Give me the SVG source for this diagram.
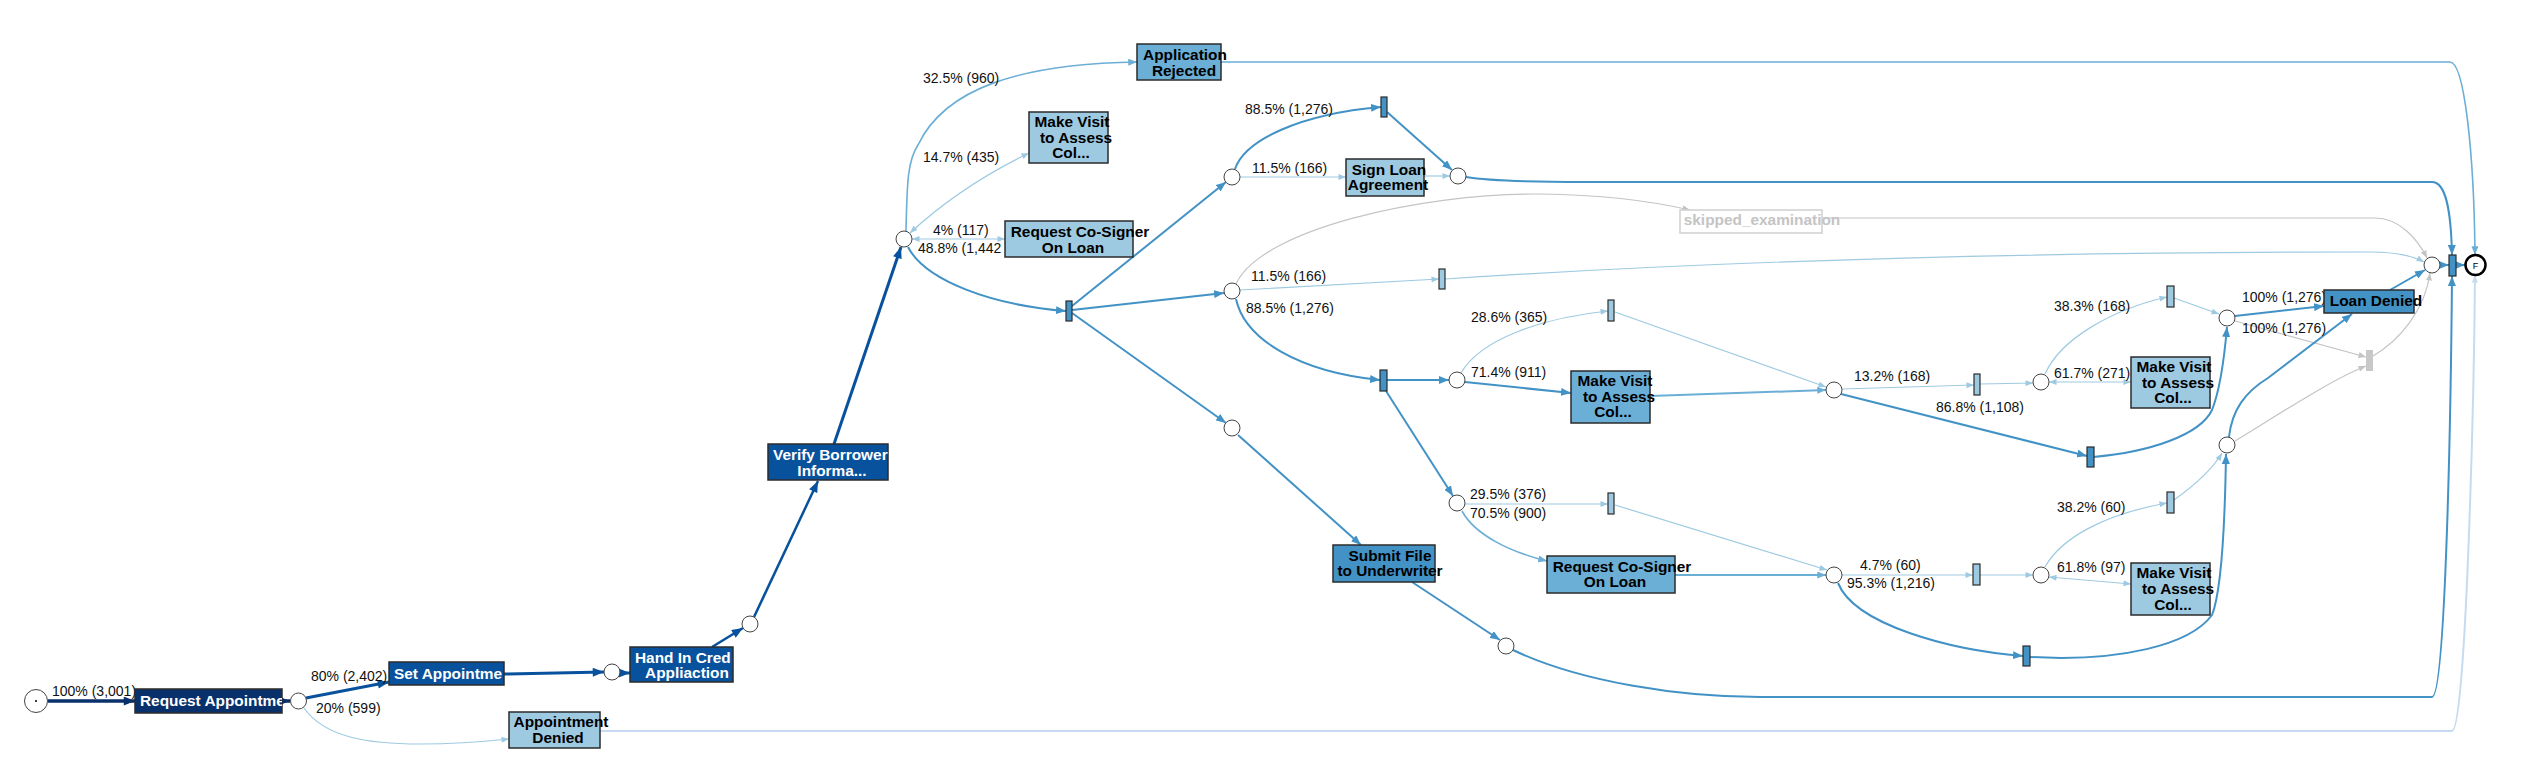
<svg xmlns="http://www.w3.org/2000/svg" width="2528" height="778" viewBox="0 0 2528 778">
<style>
.e{fill:none}
.navy{stroke:#08306b;stroke-width:3.5}
.b1{stroke:#08519c;stroke-width:3}
.b1t{stroke:#08519c;stroke-width:2.5}
.b2{stroke:#4292c6;stroke-width:2}
.b3{stroke:#6baed6;stroke-width:1.6}
.b3t{stroke:#6baed6;stroke-width:2}
.b4{stroke:#9ecae1;stroke-width:1.2}
.b5{stroke:#c6dbef;stroke-width:2}
.g{stroke:#c4c4c4;stroke-width:1.2}
.lbl{font-family:"Liberation Sans",Arial,Helvetica,sans-serif;font-size:14px;fill:#111}
.nt{font-family:"Liberation Sans",Arial,Helvetica,sans-serif;font-size:15.4px;font-weight:bold;fill:#000;text-anchor:middle}
.wt{font-family:"Liberation Sans",Arial,Helvetica,sans-serif;font-size:15.4px;font-weight:bold;fill:#fff}
.box{stroke:#2b2b2b;stroke-width:1.5}
.tr{stroke:#2b2b2b;stroke-width:1.2}
.pl{fill:#fff;stroke:#444;stroke-width:1}
</style>
<defs>
<marker id="a-navy" viewBox="0 0 10 8" refX="10" refY="4" markerUnits="userSpaceOnUse" markerWidth="12" markerHeight="9" orient="auto-start-reverse"><path d="M0,0 L10,4 L0,8 z" fill="#08306b"/></marker>
<marker id="a-b1" viewBox="0 0 10 8" refX="10" refY="4" markerUnits="userSpaceOnUse" markerWidth="12" markerHeight="9" orient="auto-start-reverse"><path d="M0,0 L10,4 L0,8 z" fill="#08519c"/></marker>
<marker id="a-b2" viewBox="0 0 10 8" refX="10" refY="4" markerUnits="userSpaceOnUse" markerWidth="10" markerHeight="8" orient="auto-start-reverse"><path d="M0,0 L10,4 L0,8 z" fill="#4292c6"/></marker>
<marker id="a-b3" viewBox="0 0 10 8" refX="10" refY="4" markerUnits="userSpaceOnUse" markerWidth="9" markerHeight="7" orient="auto-start-reverse"><path d="M0,0 L10,4 L0,8 z" fill="#6baed6"/></marker>
<marker id="a-b4" viewBox="0 0 10 8" refX="10" refY="4" markerUnits="userSpaceOnUse" markerWidth="8" markerHeight="6" orient="auto-start-reverse"><path d="M0,0 L10,4 L0,8 z" fill="#9ecae1"/></marker>
<marker id="a-b5" viewBox="0 0 10 8" refX="10" refY="4" markerUnits="userSpaceOnUse" markerWidth="8" markerHeight="6" orient="auto-start-reverse"><path d="M0,0 L10,4 L0,8 z" fill="#c6dbef"/></marker>
<marker id="a-g" viewBox="0 0 10 8" refX="10" refY="4" markerUnits="userSpaceOnUse" markerWidth="8" markerHeight="6" orient="auto-start-reverse"><path d="M0,0 L10,4 L0,8 z" fill="#c4c4c4"/></marker>
<clipPath id="c-ra"><rect x="135" y="689" width="147" height="24"/></clipPath>
<clipPath id="c-sa"><rect x="389" y="662" width="115" height="23"/></clipPath>
<clipPath id="c-hi"><rect x="630" y="647" width="103" height="35"/></clipPath>
<clipPath id="c-vb"><rect x="768" y="444" width="120" height="36"/></clipPath>
</defs>
<rect width="2528" height="778" fill="#fff"/>

<g id="connectors">
<path class="e navy" d="M48 701 L135 701" marker-end="url(#a-navy)"/>
<path class="e navy" d="M282 701 L290 701" marker-end="url(#a-navy)"/>
<path class="e b1" d="M306 698 L389 682" marker-end="url(#a-b1)"/>
<path class="e b4" d="M304 708 C325 738 370 744 420 744 C460 744 490 741 509 739" marker-end="url(#a-b4)"/>
<path class="e b1" d="M504 674 L604 672" marker-end="url(#a-b1)"/>
<path class="e b1" d="M620 673 L630 673" marker-end="url(#a-b1)"/>
<path class="e b1t" d="M712 647 L743 628" marker-end="url(#a-b1)"/>
<path class="e b1t" d="M754 617 L818 481" marker-end="url(#a-b1)"/>
<path class="e b1" d="M834 444 L901 247" marker-end="url(#a-b1)"/>
<path class="e b3" d="M906 231 C907 180 908 160 918 145 C945 88 1020 64 1137 62" marker-end="url(#a-b3)"/>
<path class="e b4" d="M910 233 C950 196 990 172 1029 153" marker-start="url(#a-b4)" marker-end="url(#a-b4)"/>
<path class="e b4" d="M912 239 L1005 239" marker-start="url(#a-b4)" marker-end="url(#a-b4)"/>
<path class="e b2" d="M908 247 C925 280 990 305 1066 311" marker-end="url(#a-b2)"/>
<path class="e b2" d="M1072 306 L1226 182" marker-end="url(#a-b2)"/>
<path class="e b2" d="M1072 310 L1224 293" marker-end="url(#a-b2)"/>
<path class="e b2" d="M1072 313 L1226 423" marker-end="url(#a-b2)"/>
<path class="e b2" d="M1235 169 C1245 140 1300 114 1381 107" marker-end="url(#a-b2)"/>
<path class="e b4" d="M1240 177 L1346 177" marker-end="url(#a-b4)"/>
<path class="e b2" d="M1387 112 L1452 170" marker-end="url(#a-b2)"/>
<path class="e b4" d="M1424 176 L1450 176" marker-end="url(#a-b4)"/>
<path class="e b2" d="M1466 177 C1490 181 1530 182 1585 182 L2432 182 C2446 182 2451 210 2452 255" marker-end="url(#a-b2)"/>
<path class="e b3" d="M1221 62 L2450 62 C2464 62 2474 150 2475 255" marker-end="url(#a-b3)"/>
<path class="e b5" d="M600 731 L2452 731 C2466 731 2474 400 2475 275" marker-end="url(#a-b5)"/>
<path class="e g" d="M1236 284 C1260 230 1420 193 1540 194 C1610 195 1660 203 1690 210" marker-end="url(#a-g)"/>
<path class="e g" d="M1822 218 L2375 218 C2400 218 2418 240 2427 258" marker-end="url(#a-g)"/>
<path class="e b4" d="M1240 290 L1439 279" marker-end="url(#a-b4)"/>
<path class="e b4" d="M1445 279 C1700 262 2000 252 2370 252 C2400 252 2415 257 2424 262" marker-end="url(#a-b4)"/>
<path class="e b2" d="M1236 299 C1245 340 1300 372 1380 380" marker-end="url(#a-b2)"/>
<path class="e b2" d="M1387 380 L1449 380" marker-end="url(#a-b2)"/>
<path class="e b4" d="M1461 373 C1480 340 1540 318 1608 311" marker-end="url(#a-b4)"/>
<path class="e b2" d="M1465 382 L1571 393" marker-end="url(#a-b2)"/>
<path class="e b2" d="M1386 391 L1453 496" marker-end="url(#a-b2)"/>
<path class="e b4" d="M1465 504 L1608 504" marker-end="url(#a-b4)"/>
<path class="e b3" d="M1462 511 C1475 535 1510 552 1547 561" marker-end="url(#a-b3)"/>
<path class="e b4" d="M1615 505 L1827 570" marker-end="url(#a-b4)"/>
<path class="e b3t" d="M1675 575 L1826 575" marker-end="url(#a-b3)"/>
<path class="e b4" d="M1842 575 L1973 575" marker-end="url(#a-b4)"/>
<path class="e b4" d="M1980 575 L2033 575" marker-end="url(#a-b4)"/>
<path class="e b2" d="M1838 583 C1855 625 1950 650 2023 656" marker-end="url(#a-b2)"/>
<path class="e b2" d="M1238 435 L1361 545" marker-end="url(#a-b2)"/>
<path class="e b2" d="M1412 582 L1500 640" marker-end="url(#a-b2)"/>
<path class="e b2" d="M1513 650 C1580 682 1680 697 1760 697 L2432 697 C2446 697 2451 400 2452 276" marker-end="url(#a-b2)"/>
<path class="e b4" d="M1615 312 L1826 387" marker-end="url(#a-b4)"/>
<path class="e b3t" d="M1650 396 L1826 390" marker-end="url(#a-b3)"/>
<path class="e b4" d="M1842 389 L1974 385" marker-end="url(#a-b4)"/>
<path class="e b4" d="M1980 384 L2033 383" marker-end="url(#a-b4)"/>
<path class="e b2" d="M1841 394 L2087 456" marker-end="url(#a-b2)"/>
<path class="e b4" d="M2049 382 L2131 382" marker-start="url(#a-b4)" marker-end="url(#a-b4)"/>
<path class="e b4" d="M2045 374 C2060 340 2110 310 2167 297" marker-end="url(#a-b4)"/>
<path class="e b4" d="M2174 298 L2219 314" marker-end="url(#a-b4)"/>
<path class="e b2" d="M2235 316 L2324 306" marker-end="url(#a-b2)"/>
<path class="e g" d="M2235 321 L2366 357" marker-end="url(#a-g)"/>
<path class="e g" d="M2373 356 C2400 340 2425 310 2430 273" marker-end="url(#a-g)"/>
<path class="e b2" d="M2390 290 L2425 270" marker-end="url(#a-b2)"/>
<path class="e b2" d="M2440 265 L2449 265" marker-end="url(#a-b2)"/>
<path class="e b2" d="M2456 265 L2465 265" marker-end="url(#a-b2)"/>
<path class="e b2" d="M2093 457 C2150 452 2200 435 2212 410 C2220 390 2225 350 2227 327" marker-end="url(#a-b2)"/>
<path class="e b4" d="M2049 577 L2131 584" marker-start="url(#a-b4)" marker-end="url(#a-b4)"/>
<path class="e b4" d="M2045 567 C2060 540 2100 515 2167 503" marker-end="url(#a-b4)"/>
<path class="e b4" d="M2174 500 C2195 485 2212 470 2222 453" marker-end="url(#a-b4)"/>
<path class="e b2" d="M2030 657 C2120 662 2190 645 2212 615 C2222 590 2225 520 2226 454" marker-end="url(#a-b2)"/>
<path class="e b2" d="M2229 437 C2232 410 2245 392 2268 378 L2352 314" marker-end="url(#a-b2)"/>
<path class="e g" d="M2235 441 C2270 420 2330 380 2366 366" marker-end="url(#a-g)"/>

<text class="lbl" x="52" y="696">100% (3,001)</text>
<text class="lbl" x="311" y="681">80% (2,402)</text>
<text class="lbl" x="316" y="713">20% (599)</text>
<text class="lbl" x="923" y="83">32.5% (960)</text>
<text class="lbl" x="923" y="162">14.7% (435)</text>
<text class="lbl" x="933" y="235">4% (117)</text>
<text class="lbl" x="918" y="253">48.8% (1,442</text>
<text class="lbl" x="1245" y="114">88.5% (1,276)</text>
<text class="lbl" x="1252" y="173">11.5% (166)</text>
<text class="lbl" x="1251" y="281">11.5% (166)</text>
<text class="lbl" x="1246" y="313">88.5% (1,276)</text>
<text class="lbl" x="1471" y="322">28.6% (365)</text>
<text class="lbl" x="1471" y="377">71.4% (911)</text>
<text class="lbl" x="1470" y="499">29.5% (376)</text>
<text class="lbl" x="1470" y="518">70.5% (900)</text>
<text class="lbl" x="1860" y="570">4.7% (60)</text>
<text class="lbl" x="1847" y="588">95.3% (1,216)</text>
<text class="lbl" x="1854" y="381">13.2% (168)</text>
<text class="lbl" x="1936" y="412">86.8% (1,108)</text>
<text class="lbl" x="2054" y="378">61.7% (271)</text>
<text class="lbl" x="2054" y="311">38.3% (168)</text>
<text class="lbl" x="2242" y="302">100% (1,276)</text>
<text class="lbl" x="2242" y="333">100% (1,276)</text>
<text class="lbl" x="2057" y="572">61.8% (97)</text>
<text class="lbl" x="2057" y="512">38.2% (60)</text>
</g>

<g id="start"><circle class="pl" cx="36" cy="701" r="11.5" stroke="#333"/><circle cx="36" cy="701" r="1" fill="#000"/></g>
<g id="request-appointment"><rect class="box" x="135" y="689" width="147" height="24" fill="#08306b"/><text class="wt" x="140" y="706" clip-path="url(#c-ra)">Request Appointme</text></g>
<g id="p1"><circle class="pl" cx="298.5" cy="701" r="8"/></g>
<g id="set-appointment"><rect class="box" x="389" y="662" width="115" height="23" fill="#08519c"/><text class="wt" x="394" y="679" clip-path="url(#c-sa)">Set Appointme</text></g>
<g id="appointment-denied"><rect class="box" x="509" y="712" width="91" height="36" fill="#9ecae1"/><text class="nt" x="561" y="727">Appointment</text><text class="nt" x="558" y="743">Denied</text></g>
<g id="p2"><circle class="pl" cx="612" cy="672" r="8"/></g>
<g id="hand-in"><rect class="box" x="630" y="647" width="103" height="35" fill="#08519c"/><text class="wt" x="635" y="663" clip-path="url(#c-hi)">Hand In Cred</text><text class="wt" x="687" y="678" text-anchor="middle">Appliaction</text></g>
<g id="p3"><circle class="pl" cx="750" cy="624" r="8"/></g>
<g id="verify"><rect class="box" x="768" y="444" width="120" height="36" fill="#08519c"/><text class="wt" x="773" y="460" clip-path="url(#c-vb)">Verify Borrower</text><text class="wt" x="832" y="476" text-anchor="middle">Informa...</text></g>
<g id="p4"><circle class="pl" cx="904" cy="239" r="8"/></g>
<g id="application-rejected"><rect class="box" x="1137" y="44" width="84" height="36" fill="#6baed6"/><text class="nt" x="1185" y="60">Application</text><text class="nt" x="1184" y="76">Rejected</text></g>
<g id="make-visit-1"><rect class="box" x="1029" y="112" width="79" height="51" fill="#9ecae1"/><text class="nt" x="1072" y="127">Make Visit</text><text class="nt" x="1076" y="143">to Assess</text><text class="nt" x="1071" y="158">Col...</text></g>
<g id="cosigner-1"><rect class="box" x="1005" y="221" width="128" height="36" fill="#9ecae1"/><text class="nt" x="1080" y="237">Request Co-Signer</text><text class="nt" x="1073" y="253">On Loan</text></g>
<g id="t1"><rect class="tr" x="1066" y="301" width="6" height="20" fill="#4292c6"/></g>
<g id="p5"><circle class="pl" cx="1232" cy="177" r="8"/></g>
<g id="p6"><circle class="pl" cx="1232" cy="291" r="8"/></g>
<g id="p7"><circle class="pl" cx="1232" cy="428" r="8"/></g>
<g id="t2"><rect class="tr" x="1381" y="97" width="6" height="20" fill="#4292c6"/></g>
<g id="sign-loan"><rect class="box" x="1346" y="159" width="78" height="37" fill="#9ecae1"/><text class="nt" x="1389" y="175">Sign Loan</text><text class="nt" x="1388" y="190">Agreement</text></g>
<g id="p8"><circle class="pl" cx="1458" cy="176" r="8"/></g>
<g id="skipped"><rect x="1680" y="210" width="142" height="23" fill="#fff" stroke="#cfcfcf" stroke-width="1.5"/><text class="nt" x="1762" y="225" style="fill:#c4c4c4">skipped_examination</text></g>
<g id="t3"><rect class="tr" x="1439" y="269" width="6" height="20" fill="#9ecae1"/></g>
<g id="t4"><rect class="tr" x="1380" y="370" width="7" height="21" fill="#4292c6"/></g>
<g id="p9"><circle class="pl" cx="1457" cy="380" r="8"/></g>
<g id="t5"><rect class="tr" x="1608" y="300" width="6" height="21" fill="#9ecae1"/></g>
<g id="make-visit-2"><rect class="box" x="1571" y="371" width="79" height="52" fill="#6baed6"/><text class="nt" x="1615" y="386">Make Visit</text><text class="nt" x="1619" y="402">to Assess</text><text class="nt" x="1613" y="417">Col...</text></g>
<g id="p10"><circle class="pl" cx="1457" cy="503" r="8"/></g>
<g id="t6"><rect class="tr" x="1608" y="493" width="6" height="21" fill="#9ecae1"/></g>
<g id="cosigner-2"><rect class="box" x="1547" y="556" width="128" height="37" fill="#6baed6"/><text class="nt" x="1622" y="572">Request Co-Signer</text><text class="nt" x="1615" y="587">On Loan</text></g>
<g id="submit-file"><rect class="box" x="1333" y="545" width="102" height="37" fill="#4292c6"/><text class="nt" x="1390" y="561">Submit File</text><text class="nt" x="1390" y="576">to Underwriter</text></g>
<g id="p11"><circle class="pl" cx="1506" cy="646" r="8"/></g>
<g id="p12"><circle class="pl" cx="1834" cy="575" r="8"/></g>
<g id="t7"><rect class="tr" x="1973" y="564" width="7" height="21" fill="#9ecae1"/></g>
<g id="p13"><circle class="pl" cx="2041" cy="575" r="8"/></g>
<g id="t8"><rect class="tr" x="2023" y="646" width="7" height="20" fill="#4292c6"/></g>
<g id="make-visit-4"><rect class="box" x="2131" y="563" width="79" height="52" fill="#9ecae1"/><text class="nt" x="2174" y="578">Make Visit</text><text class="nt" x="2178" y="594">to Assess</text><text class="nt" x="2173" y="610">Col...</text></g>
<g id="t13"><rect class="tr" x="2167" y="492" width="7" height="21" fill="#9ecae1"/></g>
<g id="p14"><circle class="pl" cx="2227" cy="445" r="8"/></g>
<g id="p15"><circle class="pl" cx="1834" cy="390" r="8"/></g>
<g id="t9"><rect class="tr" x="1974" y="374" width="6" height="21" fill="#9ecae1"/></g>
<g id="p16"><circle class="pl" cx="2041" cy="382" r="8"/></g>
<g id="t10"><rect class="tr" x="2087" y="447" width="7" height="20" fill="#4292c6"/></g>
<g id="make-visit-3"><rect class="box" x="2131" y="357" width="79" height="51" fill="#9ecae1"/><text class="nt" x="2174" y="372">Make Visit</text><text class="nt" x="2178" y="388">to Assess</text><text class="nt" x="2173" y="403">Col...</text></g>
<g id="t11"><rect class="tr" x="2167" y="286" width="7" height="21" fill="#9ecae1"/></g>
<g id="p17"><circle class="pl" cx="2227" cy="318" r="8"/></g>
<g id="loan-denied"><rect class="box" x="2324" y="290" width="90" height="23" fill="#4292c6"/><text class="nt" x="2376" y="306">Loan Denied</text></g>
<g id="t12"><rect x="2366" y="350" width="7" height="21" fill="#c8c8c8"/></g>
<g id="p18"><circle class="pl" cx="2432" cy="265" r="8"/></g>
<g id="tf"><rect class="tr" x="2449" y="255" width="7" height="21" fill="#4292c6"/></g>
<g id="final"><circle cx="2475.5" cy="265" r="10" fill="#fff" stroke="#000" stroke-width="2.5"/><text x="2475.5" y="268.5" text-anchor="middle" style="font-family:'Liberation Sans',Arial,sans-serif;font-size:9px;fill:#000">F</text></g>
</svg>
